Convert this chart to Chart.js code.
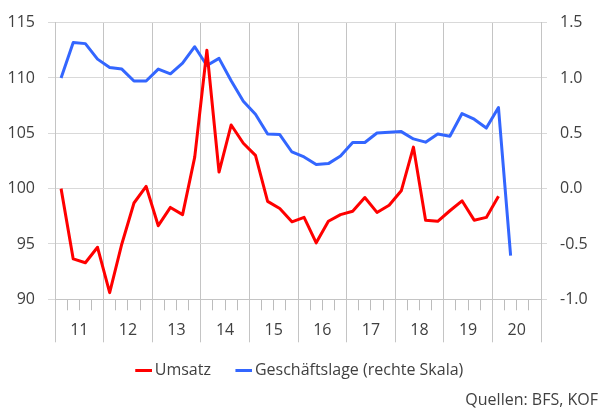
<!DOCTYPE html>
<html><head><meta charset="utf-8">
<script src="https://cdn.jsdelivr.net/npm/chart.js@4"></script>
<style>html,body{margin:0;padding:0;background:#fff;}#wrap{width:604px;height:410px;}</style>
</head><body><div id="wrap"><canvas id="c" width="604" height="410"></canvas></div>
<script>
// Categories: years, 4 quarters each (2011Q1 .. 2020Q4)
const years = ['11','12','13','14','15','16','17','18','19','20'];
const quartersPerYear = 4;
// Umsatz (left axis), quarterly from 2011Q1
const umsatz = [100.0, 93.65, 93.3, 94.7, 90.6, 95.0, 98.7, 100.2,
  96.65, 98.3, 97.65, 102.85, 112.5, 101.5, 105.75, 104.1,
  103.0, 98.85, 98.2, 97.0, 97.4, 95.1, 97.05, 97.65,
  97.95, 99.2, 97.85, 98.5, 99.8, 103.75, 97.15, 97.05,
  98.0, 98.9, 97.15, 97.4, 99.3];
// Geschäftslage (right axis), quarterly from 2011Q1
const geschaeftslage = [1.0, 1.32, 1.31, 1.17, 1.095, 1.08, 0.972, 0.972,
  1.08, 1.037, 1.133, 1.282, 1.112, 1.177, 0.975, 0.79,
  0.672, 0.494, 0.488, 0.331, 0.286, 0.218, 0.226, 0.295,
  0.417, 0.417, 0.503, 0.509, 0.515, 0.449, 0.42, 0.494,
  0.473, 0.678, 0.627, 0.547, 0.732, -0.605];
const leftTicks = {min: 90, max: 115, step: 5};
const rightTicks = {min: -1.0, max: 1.5, step: 0.5};
const seriesNames = ['Umsatz', 'Geschäftslage (rechte Skala)'];
const sourceText = 'Quellen: BFS, KOF';

const nQ = years.length * quartersPerYear;
const toPts = arr => arr.map((v, i) => ({x: i + 0.5, y: v}));

const RED = '#ff0000', BLUE = '#3366ff';
const VGRID = '#c4c4c4', HGRID = '#d9d9d9', TXT = '#404040';
const QTICK = '#bcbcbc';
Chart.defaults.font.family = "'Open Sans', sans-serif";
Chart.defaults.font.size = 16;
Chart.defaults.color = TXT;

function legendImg(color) {
  const c = document.createElement('canvas');
  c.width = 23; c.height = 3;
  const g = c.getContext('2d');
  g.fillStyle = color; g.fillRect(6, 0, 17, 3);
  return c;
}
const legendImgs = [legendImg(RED), legendImg(BLUE)];

new Chart(document.getElementById('c'), {
  type: 'line',
  data: {
    datasets: [
      {label: seriesNames[0], data: toPts(umsatz), borderColor: RED, backgroundColor: RED,
       borderWidth: 3, pointRadius: 0, tension: 0, borderJoinStyle: 'round', xAxisID: 'x', yAxisID: 'y'},
      {label: seriesNames[1], data: toPts(geschaeftslage), borderColor: BLUE, backgroundColor: BLUE,
       borderWidth: 3, pointRadius: 0, tension: 0, borderJoinStyle: 'round', xAxisID: 'x', yAxisID: 'y1'}
    ]
  },
  options: {
    responsive: false,
    animation: false,
    devicePixelRatio: 1,
    layout: {padding: {top: 19, right: 6, left: 0, bottom: 0}},
    plugins: {
      tooltip: {enabled: false},
      legend: {
        position: 'bottom',
        labels: {
          usePointStyle: true, pointStyleWidth: 12, padding: 24,
          font: {size: 16}, color: TXT,
          generateLabels: chart => {
            const items = Chart.defaults.plugins.legend.labels.generateLabels(chart);
            items.forEach((it, i) => { it.pointStyle = legendImgs[i]; });
            return items;
          }
        }
      },
      title: {
        display: true, text: sourceText, position: 'bottom', align: 'end',
        font: {size: 16, weight: 'normal'}, color: TXT, padding: {top: 2, bottom: 0}
      }
    },
    scales: {
      x: {
        type: 'linear', min: 0, max: nQ, position: 'bottom', weight: 0,
        ticks: {display: true, stepSize: 1, autoSkip: false, maxRotation: 0, callback: () => ''},
        grid: {
          color: ctx => (ctx.tick && ctx.tick.value % quartersPerYear === 0) ? VGRID : 'rgba(0,0,0,0)',
          tickColor: ctx => (ctx.tick && ctx.tick.value % quartersPerYear === 0) ? VGRID : QTICK,
          tickLength: 11
        },
        border: {color: VGRID},
        afterFit: s => { s.height = 11; }
      },
      x2: {
        type: 'linear', min: 0, max: nQ, position: 'bottom', weight: 1,
        ticks: {
          stepSize: 1, autoSkip: false, maxRotation: 0, padding: -21,
          callback: v => (v % quartersPerYear === 2) ? years[(v - 2) / quartersPerYear] : ''
        },
        grid: {
          drawOnChartArea: false, tickLength: 32,
          tickColor: ctx => (ctx.tick && ctx.tick.value % quartersPerYear === 0) ? VGRID : 'rgba(0,0,0,0)'
        },
        border: {display: false},
        afterFit: s => { s.height = 28.5; }
      },
      y: {
        position: 'left', min: leftTicks.min, max: leftTicks.max,
        ticks: {stepSize: leftTicks.step, padding: 13},
        grid: {color: HGRID, tickColor: HGRID, tickLength: 7},
        border: {color: VGRID},
        afterFit: s => { s.width = 55; }
      },
      y1: {
        position: 'right', min: rightTicks.min, max: rightTicks.max,
        ticks: {stepSize: rightTicks.step, padding: 13, callback: v => Number(v).toFixed(1)},
        grid: {drawOnChartArea: false, color: HGRID, tickColor: HGRID, tickLength: 6},
        border: {color: VGRID},
        afterFit: s => { s.width = 57; }
      }
    }
  }
});
</script>
</body></html>
